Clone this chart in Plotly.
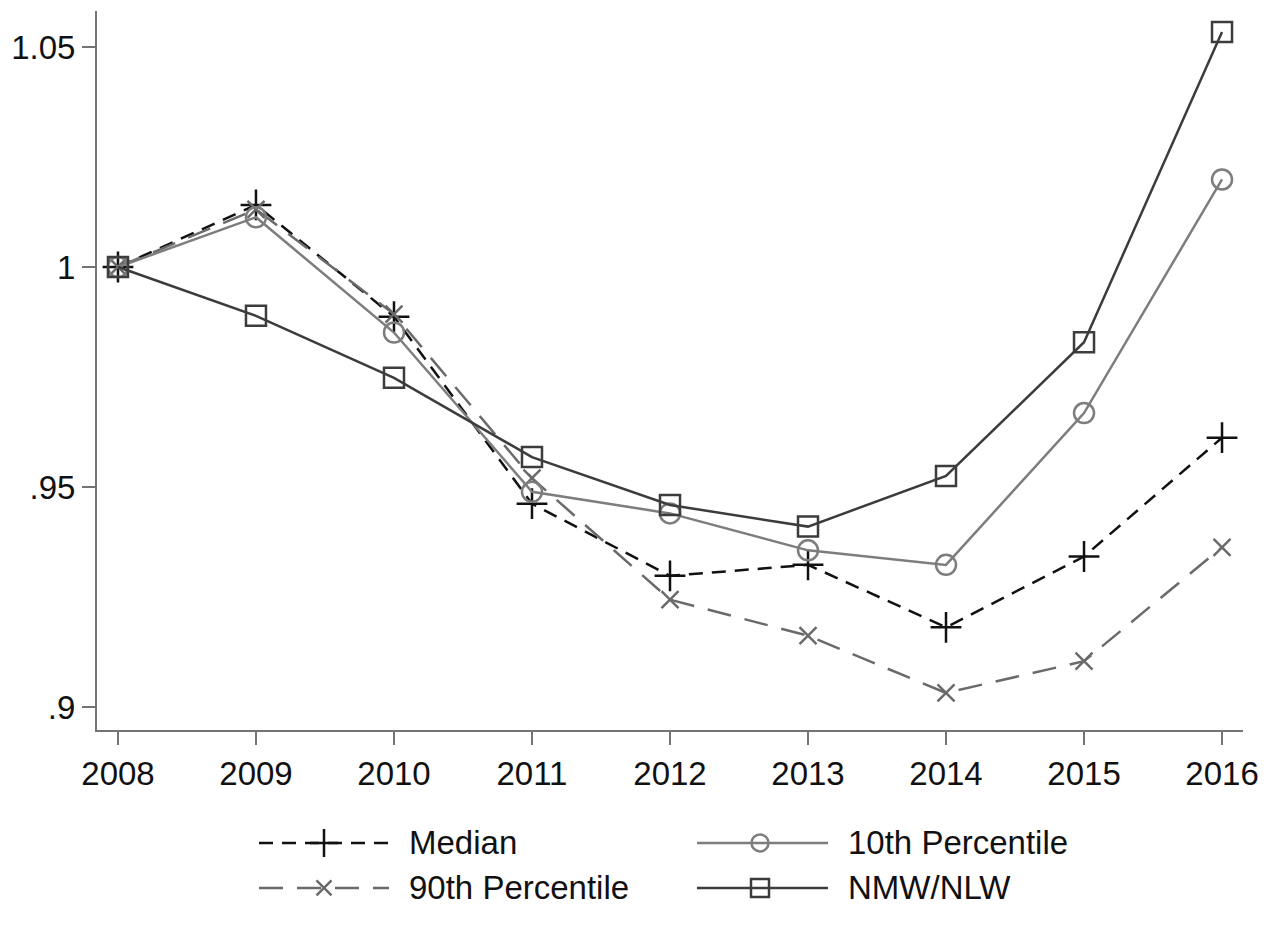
import plotly.graph_objects as go

years = [2008, 2009, 2010, 2011, 2012, 2013, 2014, 2015, 2016]
median = [1.0, 1.0141, 0.9887, 0.9462, 0.9298, 0.9323, 0.9181, 0.9342, 0.9612]
p90 = [1.0, 1.0131, 0.9893, 0.9520, 0.9244, 0.9162, 0.9032, 0.9104, 0.9363]
p10 = [1.0, 1.0113, 0.9851, 0.9489, 0.9440, 0.9356, 0.9323, 0.9668, 1.0199]
nmw = [1.0, 0.9889, 0.9748, 0.9568, 0.9459, 0.9410, 0.9525, 0.9829, 1.0534]

ytick_vals = [0.9, 0.95, 1.0, 1.05]
ytick_text = [".9", ".95", "1", "1.05"]

series = [
    dict(name="Median", y=median, color="#111111", dash="14px,9px", symbol="cross-thin-open", size=22, lsize=20),
    dict(name="90th Percentile", y=p90, color="#6a6a6a", dash="24px,14px", symbol="x-thin-open", size=17, lsize=15),
    dict(name="10th Percentile", y=p10, color="#7d7d7d", dash="solid", symbol="circle-open", size=20, lsize=17),
    dict(name="NMW/NLW", y=nmw, color="#3c3c3c", dash="solid", symbol="square-open", size=20, lsize=18),
]

fig = go.Figure()
for s in series:
    fig.add_trace(go.Scatter(
        x=years, y=s["y"], mode="lines+markers", name=s["name"],
        line=dict(color=s["color"], width=2.5, dash=s["dash"]),
        marker=dict(symbol=s["symbol"], size=s["size"], color=s["color"],
                    line=dict(color=s["color"], width=2.5)),
        showlegend=False, xaxis="x", yaxis="y",
    ))

# Custom legend keys (screen-pixel-like coordinates on a hidden helper axis)
legend_pos = [(259, 389, 324, 843), (259, 389, 324, 888), (697, 828, 760, 843), (697, 828, 760, 888)]
for s, (x0, x1, xm, yy) in zip(series, legend_pos):
    fig.add_trace(go.Scatter(
        x=[x0, x1], y=[yy, yy], mode="lines",
        line=dict(color=s["color"], width=2.5, dash=s["dash"]),
        showlegend=False, hoverinfo="skip", xaxis="x2", yaxis="y2",
    ))
    fig.add_trace(go.Scatter(
        x=[xm], y=[yy], mode="markers",
        marker=dict(symbol=s["symbol"], size=s["lsize"], color=s["color"],
                    line=dict(color=s["color"], width=2.5)),
        showlegend=False, hoverinfo="skip", xaxis="x2", yaxis="y2",
    ))
    fig.add_annotation(x=x1 + 18, y=yy, xref="x2", yref="y2", text=s["name"],
                       showarrow=False, xanchor="left", yanchor="middle",
                       font=dict(family="Liberation Sans, Arial", size=33, color="#111111"))

axis_col = "#747474"
fig.update_layout(
    width=1274, height=936,
    margin=dict(l=89, r=39, t=3, b=30, autoexpand=False),
    paper_bgcolor="white", plot_bgcolor="white",
    font=dict(family="Liberation Sans, Arial", size=33, color="#111111"),
    xaxis=dict(domain=[0, 1], range=[2007.848, 2016.152], tickvals=years,
               showgrid=False, zeroline=False, showline=True, linecolor=axis_col, linewidth=2,
               ticks="outside", ticklen=13, tickwidth=2, tickcolor=axis_col,
               tickfont=dict(size=33), anchor="y", automargin=False),
    yaxis=dict(domain=[0.20377, 1], range=[0.89477, 1.05818], tickvals=ytick_vals, ticktext=ytick_text,
               showgrid=False, zeroline=False, showline=True, linecolor=axis_col, linewidth=2,
               ticks="outside", ticklen=13, tickwidth=2, tickcolor=axis_col,
               tickfont=dict(size=33), anchor="x", automargin=False),
    xaxis2=dict(domain=[0, 1], range=[97, 1243], visible=False, anchor="y2", automargin=False),
    yaxis2=dict(domain=[0, 0.18], range=[914, 751.5], visible=False, anchor="x2", automargin=False),
)

fig.write_html("out.html")
